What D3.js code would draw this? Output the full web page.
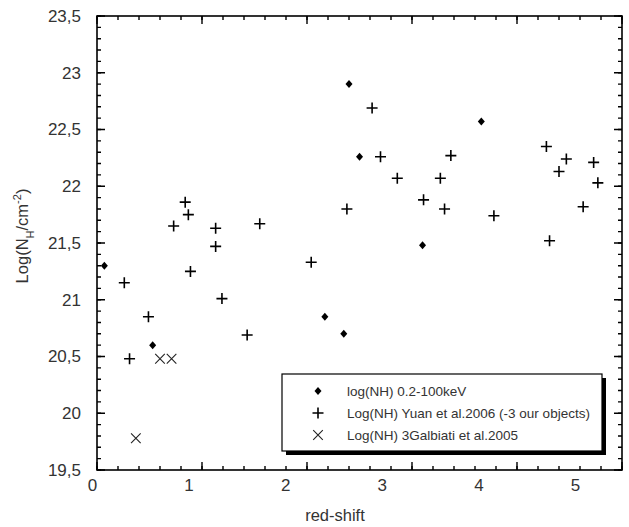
<!DOCTYPE html>
<html>
<head>
<meta charset="utf-8">
<script src="https://cdn.jsdelivr.net/npm/d3@7"></script>
<style>
	body { margin: 0; background: #fff; }
	text { font-family: Arial, "Liberation Sans", sans-serif; fill: #333; }
</style>
</head>
<body>
<div id="app"></div>
<script>
// NH column density vs red-shift, three sources.

var diamondZ  = [0.07, 0.53, 2.17, 2.35, 2.40, 2.50, 3.10, 3.66];
var diamondNH = [21.30, 20.60, 20.85, 20.70, 22.90, 22.26, 21.48, 22.57];

var plusZ  = [0.26, 0.31, 0.49, 0.73, 0.84, 0.87, 0.89, 1.13, 1.13, 1.19, 1.43, 1.55, 2.04, 2.38, 2.62,
	2.70, 2.86, 3.11, 3.27, 3.31, 3.37, 3.78, 4.28, 4.31, 4.40, 4.47, 4.63, 4.73, 4.77];
var plusNH = [21.15, 20.48, 20.85, 21.65, 21.86, 21.75, 21.25, 21.63, 21.47, 21.01, 20.69, 21.67, 21.33, 21.80, 22.69,
	22.26, 22.07, 21.88, 22.07, 21.80, 22.27, 21.74, 22.35, 21.52, 22.13, 22.24, 21.82, 22.21, 22.03];

var crossZ  = [0.37, 0.60, 0.71];
var crossNH = [19.78, 20.48, 20.48];

var xTicks = [0, 1, 2, 3, 4, 5];
var yTicks = [19.5, 20, 20.5, 21, 21.5, 22, 22.5, 23, 23.5];
var legendLabels = ["log(NH) 0.2-100keV", "Log(NH) Yuan et al.2006 (-3 our objects)", "Log(NH) 3Galbiati et al.2005"];

var width = 629, height = 527;
var pLeft = 97, pRight = 622, pTop = 16, pBottom = 470;	// plot frame

var svg = d3.select("#app").append("svg")
	.attr("width", width).attr("height", height);

var x = d3.scaleLinear().domain([0, 5]).range([pLeft, pRight]);
var y = d3.scaleLinear().domain([19.5, 23.5]).range([pBottom, pTop]);
// the tick numbers under the x axis sit a little off the tick marks in the original
var xLabel = d3.scaleLinear().domain([0, 5]).range([92, 575]);

function fmt (v) { return String(v).replace(".", ","); }

svg.append("rect")
	.attr("x", pLeft).attr("y", pTop)
	.attr("width", pRight - pLeft).attr("height", pBottom - pTop)
	.style("fill", "none").style("stroke", "#000").style("stroke-width", "1.6px");

// tick labels
var gx = svg.append("g")
	.attr("transform", "translate(0," + (pBottom + 6) + ")")
	.call(d3.axisBottom(xLabel).tickValues(xTicks).tickSize(0).tickFormat(fmt));
gx.select(".domain").remove();
gx.selectAll("text").style("font-size", "17px").attr("font-family", null).attr("fill", "#333");

var gy = svg.append("g")
	.attr("transform", "translate(" + (pLeft - 13) + ",0)")
	.call(d3.axisLeft(y).tickValues(yTicks).tickSize(0).tickFormat(fmt));
gy.select(".domain").remove();
gy.selectAll("text").style("font-size", "17px").attr("font-family", null).attr("fill", "#333");

svg.append("text")
	.attr("x", 335).attr("y", 521)
	.attr("text-anchor", "middle")
	.style("font-size", "16.5px")
	.text("red-shift");

var yl = svg.append("text")
	.attr("transform", "translate(28,236) rotate(-90)")
	.attr("text-anchor", "middle")
	.style("font-size", "16.5px");
yl.append("tspan").text("Log(N");
yl.append("tspan").attr("dy", 6).style("font-size", "11px").text("H");
yl.append("tspan").attr("dy", -6).text("/cm");
yl.append("tspan").attr("dy", -7).style("font-size", "11px").text("-2");
yl.append("tspan").attr("dy", 7).text(")");

// marker drawing
function drawDiamond (g, cx, cy)
{
	g.append("path")
		.attr("d", "M" + cx + "," + (cy - 4) + "L" + (cx + 3.5) + "," + cy + "L" + cx + "," + (cy + 4) + "L" + (cx - 3.5) + "," + cy + "Z")
		.attr("fill", "#000");
}
function drawPlus (g, cx, cy)
{
	g.append("path")
		.attr("d", "M" + (cx - 5.5) + "," + cy + "H" + (cx + 5.5) + "M" + cx + "," + (cy - 5.5) + "V" + (cy + 5.5))
		.attr("stroke", "#000").attr("stroke-width", 1.6).attr("fill", "none");
}
function drawCross (g, cx, cy)
{
	var r = 4.8;
	g.append("path")
		.attr("d", "M" + (cx - r) + "," + (cy - r) + "L" + (cx + r) + "," + (cy + r) + "M" + (cx - r) + "," + (cy + r) + "L" + (cx + r) + "," + (cy - r))
		.attr("stroke", "#222").attr("stroke-width", 1.1).attr("fill", "none");
}

var gPts = svg.append("g");
diamondZ.forEach(function (z, i) { drawDiamond(gPts, x(z), y(diamondNH[i])); });
plusZ.forEach(function (z, i) { drawPlus(gPts, x(z), y(plusNH[i])); });
crossZ.forEach(function (z, i) { drawCross(gPts, x(z), y(crossNH[i])); });

// inward tick marks on all four sides
var xMinor = d3.range(0, 26).map(function (i) { return i * 0.2; });
var yMinor = d3.range(0, 41).map(function (i) { return 19.5 + i * 0.1; });
function addTicks (data, len, horizontal)
{
	data.forEach(function (v)
	{
		var d;
		if (horizontal)
			d = "M" + x(v) + "," + pBottom + "V" + (pBottom - len) + "M" + x(v) + "," + pTop + "V" + (pTop + len);
		else
			d = "M" + pLeft + "," + y(v) + "H" + (pLeft + len) + "M" + pRight + "," + y(v) + "H" + (pRight - len);
		gPts.append("path").attr("d", d)
			.attr("stroke", "#000").attr("stroke-width", 1.4).attr("fill", "none");
	});
}
addTicks(xMinor, 4, true);
addTicks(xTicks, 8, true);
addTicks(yMinor, 4, false);
addTicks(yTicks, 8, false);

// legend with drop shadow
var lx = 282, ly = 374, lw = 320, lh = 77;
svg.append("rect").attr("x", lx + 4).attr("y", ly + 4).attr("width", lw).attr("height", lh).attr("fill", "#000");
svg.append("rect").attr("x", lx).attr("y", ly).attr("width", lw).attr("height", lh)
	.attr("fill", "#fff").attr("stroke", "#000").attr("stroke-width", 1.2);

var markers = [drawDiamond, drawPlus, drawCross];
legendLabels.forEach(function (t, i)
{
	var ry = ly + 17 + i * 22;
	markers[i](svg, 318, ry);
	svg.append("text")
		.attr("x", 347).attr("y", ry + 5)
		.style("font-size", "13.5px")
		.text(t);
});
</script>
</body>
</html>
